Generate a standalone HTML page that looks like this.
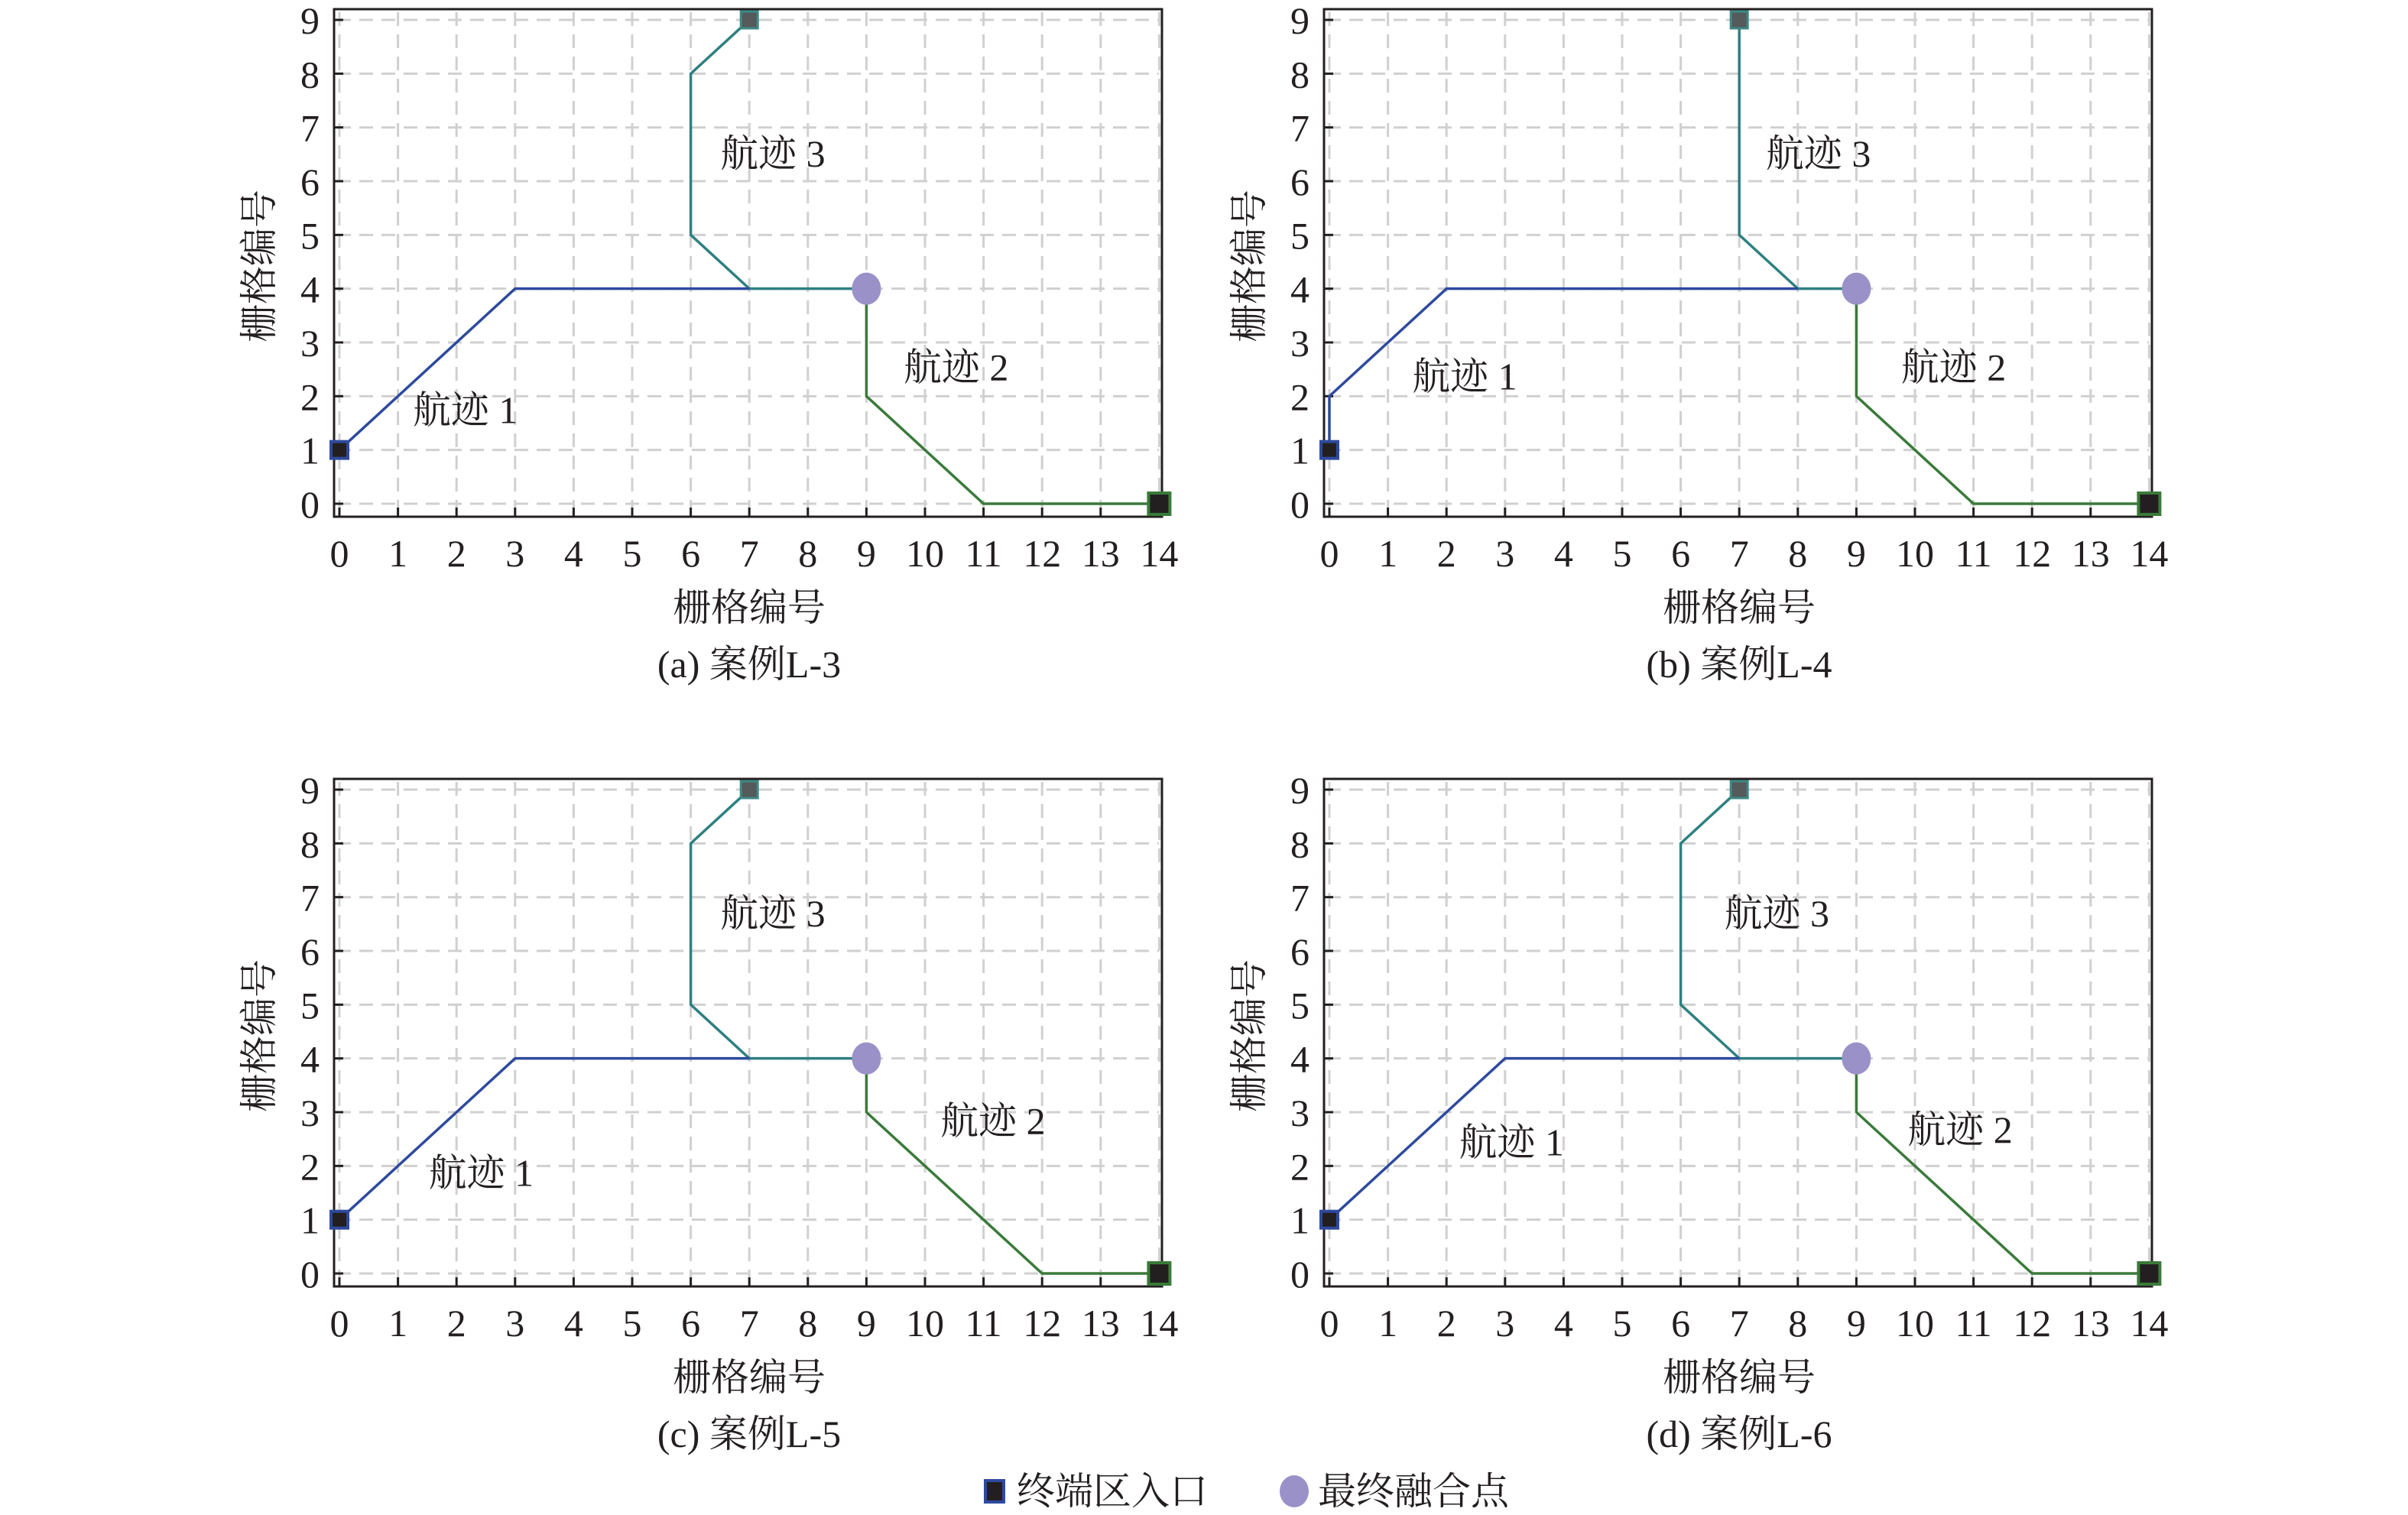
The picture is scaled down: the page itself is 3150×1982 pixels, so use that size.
<!DOCTYPE html>
<html><head><meta charset="utf-8"><style>
html,body{margin:0;padding:0;background:#fff;}
svg{display:block;font-family:"Liberation Serif","Noto Serif CJK SC",serif;}
</style></head><body>
<svg id="fig" width="3150" height="1982" viewBox="0 0 3150 1982" xmlns="http://www.w3.org/2000/svg">
<g id="legend">
  <rect x="1289" y="1937" width="24" height="28" fill="#231f20" stroke="#2e4a9e" stroke-width="4"/>
  <text x="1330" y="1968" font-size="50" fill="#231f20">终端区入口</text>
  <ellipse cx="1693" cy="1951" rx="19" ry="21" fill="#9b91c9"/>
  <text x="1724" y="1968" font-size="50" fill="#231f20">最终融合点</text>
</g>
</svg>
<script>
const xTicks = [0,1,2,3,4,5,6,7,8,9,10,11,12,13,14];
const yTicks = [0,1,2,3,4,5,6,7,8,9];
const captions = ["(a) 案例L-3","(b) 案例L-4","(c) 案例L-5","(d) 案例L-6"];
const track1 = [
  [[0,1],[3,4],[7,4]],
  [[0,1],[0,2],[2,4],[8,4]],
  [[0,1],[3,4],[7,4]],
  [[0,1],[3,4],[7,4]]
];
const track2 = [
  [[9,4],[9,2],[11,0],[14,0]],
  [[9,4],[9,2],[11,0],[14,0]],
  [[9,4],[9,3],[12,0],[14,0]],
  [[9,4],[9,3],[12,0],[14,0]]
];
const track3 = [
  [[7,9],[6,8],[6,5],[7,4],[9,4]],
  [[7,9],[7,5],[8,4],[9,4]],
  [[7,9],[6,8],[6,5],[7,4],[9,4]],
  [[7,9],[6,8],[6,5],[7,4],[9,4]]
];
const fusionPoint = [[9,4],[9,4],[9,4],[9,4]];
const label1 = [[2.15,1.74],[2.31,2.37],[2.42,1.87],[3.11,2.44]];
const label2 = [[10.53,2.54],[10.66,2.54],[11.16,2.84],[10.77,2.67]];
const label3 = [[7.4,6.51],[8.35,6.51],[7.4,6.7],[7.64,6.7]];

const NS = "http://www.w3.org/2000/svg";
const svg = document.getElementById('fig');
function mk(tag, attrs, parent){
  const e = document.createElementNS(NS, tag);
  for (const k in attrs) e.setAttribute(k, attrs[k]);
  parent.appendChild(e);
  return e;
}
const offsets = [[0,0],[1295,0],[0,1007],[1295,1007]];
const panelNames = ['a','b','c','d'];
const X0 = 444, XU = 76.6, Y0 = 659, YU = 70.33;

offsets.forEach((off, p) => {
  const ox = off[0], oy = off[1];
  const sx = v => ox + X0 + v * XU;
  const sy = v => oy + Y0 - v * YU;
  const g = mk('g', {}, svg);
  
  
  const L = ox + 437, T = oy + 12, R = ox + 1520, B = oy + 676;
  xTicks.forEach(t => {
    const l = mk('line', {x1: sx(t), x2: sx(t), y1: T + 4, y2: B - 4, stroke: '#d0d0d0', 'stroke-width': 3, 'stroke-dasharray': '18 11'}, g);
    
    
  });
  yTicks.forEach(t => {
    const l = mk('line', {x1: L + 4, x2: R - 4, y1: sy(t), y2: sy(t), stroke: '#d0d0d0', 'stroke-width': 3, 'stroke-dasharray': '18 11'}, g);
    
    
  });
  const fr = mk('rect', {x: L, y: T, width: R - L, height: B - T, fill: 'none', stroke: '#231f20', 'stroke-width': 3}, g);
  
  
  xTicks.forEach(t => {
    const tk = mk('line', {x1: sx(t), x2: sx(t), y1: B, y2: B - 12, stroke: '#231f20', 'stroke-width': 3}, g);
    
    
    const tx = mk('text', {x: sx(t), y: oy + 741, 'font-size': 50, 'text-anchor': 'middle', fill: '#231f20'}, g);
    tx.textContent = t;
    
    
  });
  yTicks.forEach(t => {
    const tk = mk('line', {x1: L, x2: L + 12, y1: sy(t), y2: sy(t), stroke: '#231f20', 'stroke-width': 3}, g);
    
    
    const tx = mk('text', {x: ox + 418, y: sy(t) + 18, 'font-size': 50, 'text-anchor': 'end', fill: '#231f20'}, g);
    tx.textContent = t;
    
    
  });
  const xt = mk('text', {x: ox + 980, y: oy + 812, 'font-size': 50, 'text-anchor': 'middle', fill: '#231f20'}, g);
  xt.textContent = '栅格编号';
  
  
  const yt = mk('text', {x: 0, y: 0, 'font-size': 50, 'text-anchor': 'middle', fill: '#231f20', transform: 'translate(' + (ox + 356) + ',' + (oy + 348) + ') rotate(-90)'}, g);
  yt.textContent = '栅格编号';
  
  
  const cap = mk('text', {x: ox + 980, y: oy + 886, 'font-size': 50, 'text-anchor': 'middle', fill: '#231f20'}, g);
  cap.textContent = captions[p];
  
  
  const pts = arr => arr.map(q => sx(q[0]) + ',' + sy(q[1])).join(' ');
  const t3 = mk('polyline', {points: pts(track3[p]), fill: 'none', stroke: '#2e8080', 'stroke-width': 3.5}, g);
  
  
  const t1 = mk('polyline', {points: pts(track1[p]), fill: 'none', stroke: '#2e4a9e', 'stroke-width': 3.5}, g);
  
  
  const t2 = mk('polyline', {points: pts(track2[p]), fill: 'none', stroke: '#3a7a3a', 'stroke-width': 3.5}, g);
  
  
  const s1 = track1[p][0];
  const m1 = mk('rect', {x: sx(s1[0]) - 11, y: sy(s1[1]) - 11, width: 22, height: 22, fill: '#231f20', stroke: '#2e4a9e', 'stroke-width': 4}, g);
  
  
  const e2 = track2[p][track2[p].length - 1];
  const m2 = mk('rect', {x: sx(e2[0]) - 14, y: sy(e2[1]) - 14, width: 28, height: 28, fill: '#231f20', stroke: '#3a7a3a', 'stroke-width': 4}, g);
  
  
  const s3 = track3[p][0];
  const m3 = mk('rect', {x: sx(s3[0]) - 11, y: sy(s3[1]) - 11, width: 22, height: 22, fill: '#555a5a', stroke: '#3d8a86', 'stroke-width': 3}, g);
  
  
  const fp = fusionPoint[p];
  const fc = mk('ellipse', {cx: sx(fp[0]), cy: sy(fp[1]), rx: 19, ry: 21, fill: '#9b91c9'}, g);
  
  
  [[label1, '航迹 1', 'track-1-label'], [label2, '航迹 2', 'track-2-label'], [label3, '航迹 3', 'track-3-label']].forEach(L3 => {
    const q = L3[0][p];
    const tx = mk('text', {x: sx(q[0]), y: sy(q[1]) + 17, 'font-size': 50, 'text-anchor': 'middle', fill: '#231f20'}, g);
    tx.textContent = L3[1];
    
    
  });
});
</script>
</body></html>
